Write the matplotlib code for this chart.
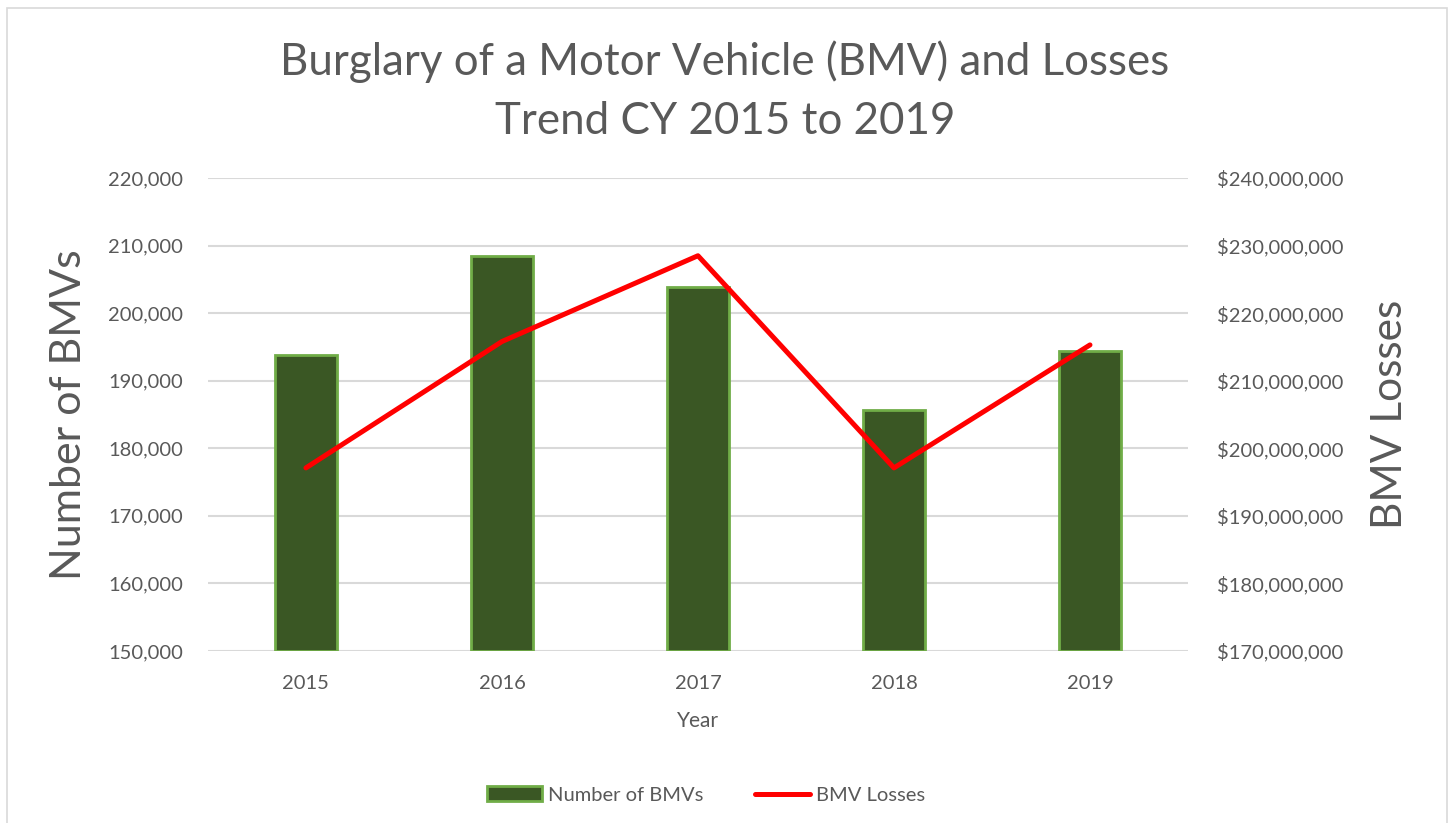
import matplotlib.pyplot as plt
from matplotlib.patches import Rectangle
from matplotlib.ticker import FuncFormatter

plt.rcParams['font.family'] = ['Lato', 'DejaVu Sans']

years = ['2015', '2016', '2017', '2018', '2019']
bmv_counts = [193850, 208400, 203900, 185600, 194400]
bmv_losses = [197.1e6, 215.8e6, 228.5e6, 197.1e6, 215.3e6]

text_gray = '#595959'
grid_gray = '#D9D9D9'

fig = plt.figure(figsize=(14.5, 8.23), dpi=100)
ax = fig.add_axes([0.1434, 0.209, 0.6759, 0.5747])
ax2 = ax.twinx()

x = range(len(years))
ax.bar(x, [v - 150000 for v in bmv_counts], bottom=150000, width=0.32,
       color='#3A5724', edgecolor='#70AD47', linewidth=2, label='Number of BMVs', zorder=3)
ax2.plot(x, bmv_losses, color='#FF0000', linewidth=3.6, solid_capstyle='round',
         label='BMV Losses', zorder=4)

ax.set_xlim(-0.5, 4.5)
ax.set_ylim(150000, 220000)
ax.set_yticks(range(150000, 220001, 10000))
ax2.set_ylim(170e6, 240e6)
ax2.set_yticks([170e6 + i * 10e6 for i in range(8)])

ax.yaxis.set_major_formatter(FuncFormatter(lambda v, p: f'{int(v):,}'))
ax2.yaxis.set_major_formatter(FuncFormatter(lambda v, p: f'${int(v):,}'))
ax.set_xticks(list(x))
ax.set_xticklabels(years)

ax.grid(axis='y', color=grid_gray, linewidth=1.5, zorder=0)
ax.set_axisbelow(True)
for a in (ax, ax2):
    for s in a.spines.values():
        s.set_visible(False)
    a.tick_params(length=0, colors=text_gray, labelsize=14.5)
ax.tick_params(axis='y', pad=18)
ax.tick_params(axis='x', pad=17)
ax2.tick_params(axis='y', pad=21)

ax.set_xlabel('Year', color=text_gray, fontsize=15, labelpad=14)
ax.set_ylabel('Number of BMVs', color=text_gray, fontsize=31, labelpad=14)
ax2.set_ylabel('BMV Losses', color=text_gray, fontsize=30.5, labelpad=20)

fig.text(0.5, 0.889, 'Burglary of a Motor Vehicle (BMV) and Losses\nTrend CY 2015 to 2019',
         ha='center', va='center', color=text_gray, fontsize=31.6, linespacing=1.55)

h1, l1 = ax.get_legend_handles_labels()
h2, l2 = ax2.get_legend_handles_labels()
fig.legend(h1 + h2, l1 + l2, loc='center', bbox_to_anchor=(0.487, 0.034), ncol=2,
           frameon=False, fontsize=14.5, labelcolor=text_gray, handlelength=2.7,
           handletextpad=0.3, columnspacing=2.6)

fig.add_artist(Rectangle((0.005, -0.01), 0.993, 1.0, transform=fig.transFigure,
                         fill=False, edgecolor=grid_gray, linewidth=1.2))

fig.savefig('out.png', dpi=100)
